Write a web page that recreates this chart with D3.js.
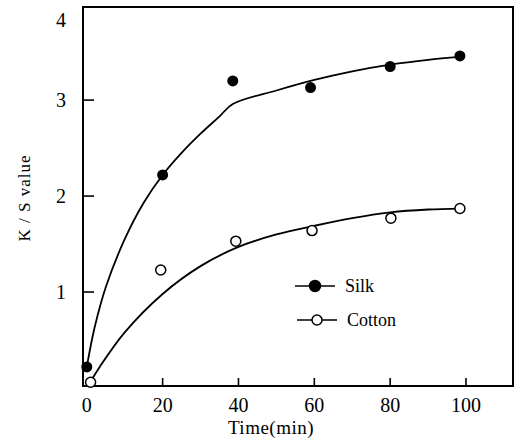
<!DOCTYPE html>
<html>
<head>
<meta charset="utf-8">
<script src="https://cdn.jsdelivr.net/npm/d3@7"></script>
<style>
  body { margin: 0; background: #fff; }
  text { font-family: "Liberation Serif", "DejaVu Serif", serif; fill: #000; }
</style>
</head>
<body>
<svg id="chart"></svg>
<script>
var w = 520;
var h = 440;

// measured points
var times = [0, 20, 38.5, 59, 80, 98.4];
var silk = [0.22, 2.22, 3.2, 3.13, 3.35, 3.46];
var cottonTimes = [1, 19.5, 39.3, 59.4, 80.2, 98.4];
var cotton = [0.06, 1.23, 1.53, 1.64, 1.77, 1.87];

// fitted curves
var silkFitT = [0, 2, 5, 10, 15, 20, 25, 30, 35, 38.5, 50, 60, 70, 80, 90, 98.4];
var silkFit = [0.22, 0.62, 1.05, 1.55, 1.93, 2.22, 2.45, 2.65, 2.83, 2.96, 3.1, 3.21, 3.3, 3.37, 3.42, 3.45];
var cottonFitT = [1.2, 3.4, 10, 20, 30, 40, 50, 60, 70, 80, 90, 98.4];
var cottonFit = [0.08, 0.22, 0.58, 0.98, 1.27, 1.47, 1.6, 1.69, 1.77, 1.83, 1.86, 1.87];

var xTicks = [0, 20, 40, 60, 80, 100];
var yTicks = [1, 2, 3, 4];

var svg = d3.select("#chart")
  .attr("width", w)
  .attr("height", h)

var x = d3.scaleLinear().domain([-1, 112.4]).range([83, 513]);
var y = d3.scaleLinear().domain([0, 3.97]).range([388, 7]);

var fLeft = x(-1), fRight = x(112.4), fTop = y(3.97), fBottom = 386;

// frame
svg.append("path")
  .attr("d", "M" + fLeft + "," + fTop + "H" + fRight + "V" + fBottom + "H" + fLeft + "Z")
  .attr("fill", "none")
  .attr("stroke", "#000")
  .attr("stroke-width", 2)

// x ticks (inward)
svg.selectAll(".xtick")
  .data(xTicks.filter(function(d) { return d > 0; }))
  .enter()
  .append("line")
  .attr("x1", function(d) { return x(d); })
  .attr("x2", function(d) { return x(d); })
  .attr("y1", fBottom)
  .attr("y2", fBottom - 8)
  .attr("stroke", "#000")
  .attr("stroke-width", 1.6)

svg.selectAll(".xlab")
  .data(xTicks)
  .enter()
  .append("text")
  .attr("x", function(d) { return x(d); })
  .attr("y", 412)
  .attr("text-anchor", "middle")
  .style("font-size", "20px")
  .text(function(d) { return d; })

// y ticks (inward)
svg.selectAll(".ytick")
  .data(yTicks.filter(function(d) { return d < 3.97; }))
  .enter()
  .append("line")
  .attr("x1", fLeft)
  .attr("x2", fLeft + 11)
  .attr("y1", function(d) { return y(d); })
  .attr("y2", function(d) { return y(d); })
  .attr("stroke", "#000")
  .attr("stroke-width", 1.6)

svg.selectAll(".ylab")
  .data(yTicks)
  .enter()
  .append("text")
  .attr("x", 66)
  .attr("y", function(d) { return Math.max(y(d), 20) + 7; })
  .attr("text-anchor", "end")
  .style("font-size", "20px")
  .text(function(d) { return d; })

// axis titles
svg.append("text")
  .attr("x", 271)
  .attr("y", 434)
  .attr("text-anchor", "middle")
  .style("font-size", "19px")
  .style("letter-spacing", "0.5px")
  .text("Time(min)")

svg.append("text")
  .attr("transform", "translate(30,198) rotate(-90)")
  .attr("text-anchor", "middle")
  .style("font-size", "17px")
  .style("letter-spacing", "1px")
  .text("K / S value")

// curves
var line = d3.line()
  .x(function(d) { return x(d[0]); })
  .y(function(d) { return y(d[1]); })
  .curve(d3.curveCatmullRom)

svg.append("path")
  .datum(d3.zip(silkFitT, silkFit))
  .attr("d", line)
  .attr("fill", "none")
  .attr("stroke", "#000")
  .attr("stroke-width", 1.8)

svg.append("path")
  .datum(d3.zip(cottonFitT, cottonFit))
  .attr("d", line)
  .attr("fill", "none")
  .attr("stroke", "#000")
  .attr("stroke-width", 1.8)

// points
svg.selectAll(".silk")
  .data(d3.zip(times, silk))
  .enter()
  .append("circle")
  .attr("cx", function(d) { return x(d[0]); })
  .attr("cy", function(d) { return y(d[1]); })
  .attr("r", 5.5)
  .attr("fill", "#000")

svg.selectAll(".cotton")
  .data(d3.zip(cottonTimes, cotton))
  .enter()
  .append("circle")
  .attr("cx", function(d) { return x(d[0]); })
  .attr("cy", function(d) { return y(d[1]); })
  .attr("r", 5)
  .attr("fill", "#fff")
  .attr("stroke", "#000")
  .attr("stroke-width", 1.5)

// legend
var legend = [
  {name: "Silk", fill: "#000", x: 295, y: 286},
  {name: "Cotton", fill: "#fff", x: 297, y: 320}
];

var lg = svg.selectAll(".legend")
  .data(legend)
  .enter()
  .append("g")
  .attr("transform", function(d) { return "translate(" + d.x + "," + d.y + ")"; })

lg.append("line")
  .attr("x1", 0)
  .attr("x2", 40)
  .attr("stroke", "#000")
  .attr("stroke-width", 1.6)

lg.append("circle")
  .attr("cx", 20)
  .attr("r", function(d) { return d.fill == "#000" ? 5.5 : 5; })
  .attr("fill", function(d) { return d.fill; })
  .attr("stroke", "#000")
  .attr("stroke-width", 1.5)

lg.append("text")
  .attr("x", 50)
  .attr("y", 6)
  .style("font-size", "18px")
  .text(function(d) { return d.name; })
</script>
</body>
</html>
